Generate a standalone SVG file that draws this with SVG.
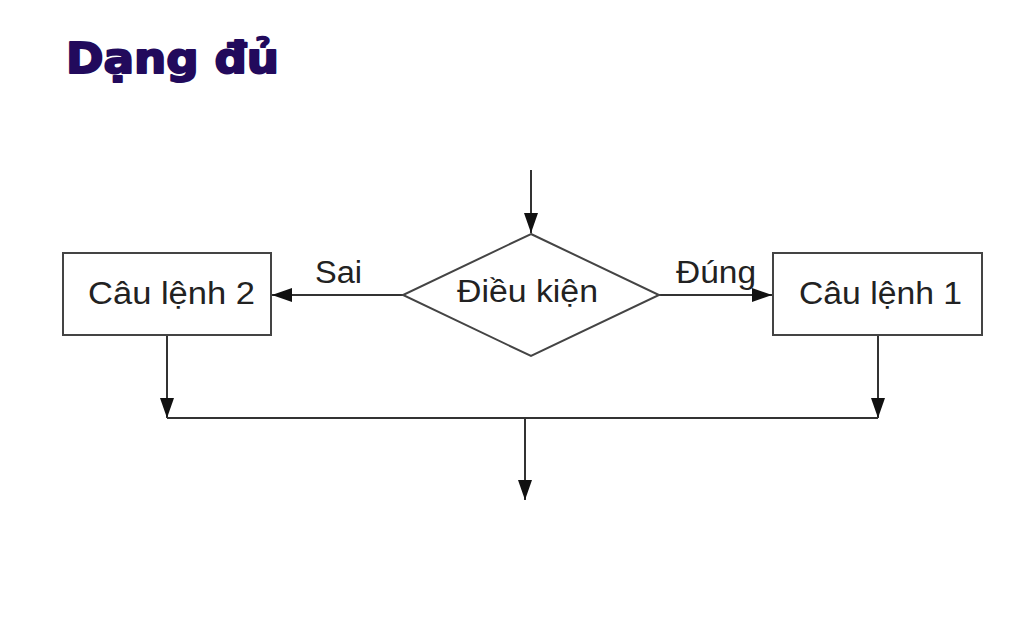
<svg xmlns="http://www.w3.org/2000/svg" width="1024" height="628" viewBox="0 0 1024 628">
<style>
.t{font-family:"Liberation Sans",Arial,sans-serif;font-size:31px;fill:#222}
.box{fill:#fff;stroke:#444;stroke-width:2}
.ln{fill:none;stroke:#333;stroke-width:2}
.title{font-family:"DejaVu Sans","Liberation Sans",sans-serif;font-weight:bold;font-size:42px;fill:#220a5c}
</style>
<defs>
<marker id="ah" viewBox="0 0 20 14" refX="20" refY="7" markerWidth="20" markerHeight="14" markerUnits="userSpaceOnUse" orient="auto">
<path d="M0,0 L20,7 L0,14 Z" fill="#111"/>
</marker>
</defs>
<rect width="1024" height="628" fill="#fff"/>
<text class="title" x="66" y="73" textLength="213" lengthAdjust="spacingAndGlyphs" stroke="#220a5c" stroke-width="2" stroke-linejoin="round">Dạng đủ</text>
<g id="connectors">
<line class="ln" x1="531" y1="170" x2="531" y2="233" marker-end="url(#ah)"/>
<line class="ln" x1="403" y1="295" x2="272" y2="295" marker-end="url(#ah)"/>
<line class="ln" x1="659" y1="295" x2="772" y2="295" marker-end="url(#ah)"/>
<line class="ln" x1="167" y1="336" x2="167" y2="418" marker-end="url(#ah)"/>
<line class="ln" x1="878" y1="336" x2="878" y2="418" marker-end="url(#ah)"/>
<line class="ln" x1="167" y1="418" x2="878" y2="418"/>
<line class="ln" x1="525" y1="418" x2="525" y2="500" marker-end="url(#ah)"/>
<text class="t" x="315" y="283" textLength="47" lengthAdjust="spacingAndGlyphs">Sai</text>
<text class="t" x="676" y="283" textLength="80" lengthAdjust="spacingAndGlyphs">Đúng</text>
</g>
<g id="cond">
<polygon class="box" points="531,234 659,295 531,356 403,295"/>
<text class="t" x="457" y="302" textLength="141" lengthAdjust="spacingAndGlyphs">Điều kiện</text>
</g>
<g id="stmt2">
<rect class="box" x="63" y="253" width="208" height="82"/>
<text class="t" x="88" y="304" textLength="167" lengthAdjust="spacingAndGlyphs">Câu lệnh 2</text>
</g>
<g id="stmt1">
<rect class="box" x="773" y="253" width="209" height="82"/>
<text class="t" x="799" y="304" textLength="163" lengthAdjust="spacingAndGlyphs">Câu lệnh 1</text>
</g>
</svg>
